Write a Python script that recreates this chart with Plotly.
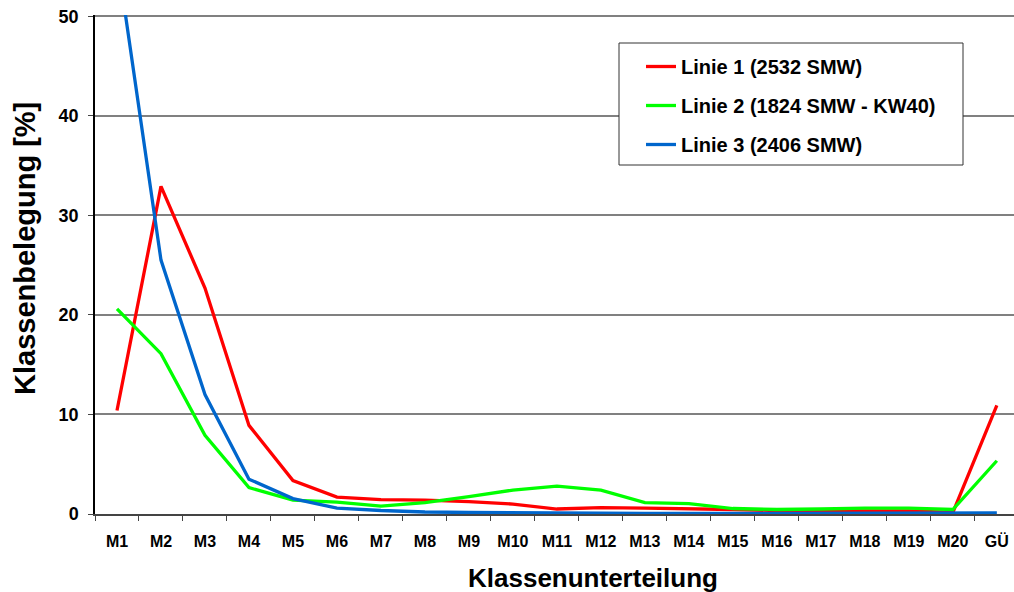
import plotly.graph_objects as go

categories = ["M1", "M2", "M3", "M4", "M5", "M6", "M7", "M8", "M9", "M10",
              "M11", "M12", "M13", "M14", "M15", "M16", "M17", "M18", "M19", "M20", "GÜ"]

linie1 = [10.4, 32.9, 22.7, 8.9, 3.35, 1.7, 1.45, 1.4, 1.25, 1.0,
          0.5, 0.65, 0.6, 0.55, 0.45, 0.35, 0.3, 0.3, 0.3, 0.15, 10.9]
linie2 = [20.6, 16.1, 7.9, 2.65, 1.4, 1.2, 0.8, 1.15, 1.75, 2.4,
          2.8, 2.4, 1.15, 1.05, 0.55, 0.45, 0.5, 0.6, 0.6, 0.45, 5.35]
linie3 = [56.0, 25.5, 12.0, 3.5, 1.55, 0.6, 0.35, 0.2, 0.15, 0.1,
          0.05, 0.08, 0.05, 0.05, 0.05, 0.05, 0.08, 0.08, 0.05, 0.1, 0.1]

names = ["Linie 1 (2532 SMW)", "Linie 2 (1824 SMW - KW40)", "Linie 3 (2406 SMW)"]
colors = ["#FF0000", "#00FF00", "#0066CC"]

FONT = "Liberation Sans, Arial, sans-serif"

# body margin is removed by the post script, so figure pixels == window pixels
OFF = 0
W, H = 1014 - OFF, 592 - OFF
# plot area in window pixels: left 95, top 15, bottom 514, right 1014
L, T = 95 - OFF, 15 - OFF
B = H - (514 - OFF)
R = 0
PW, PH = W - L - R, H - T - B


def px_x(xw):
    return (xw - OFF - L) / PW


def px_y(yw):
    return 1 - (yw - OFF - T) / PH


fig = go.Figure()
for i, (name, vals, col) in enumerate(zip(names, [linie1, linie2, linie3], colors)):
    fig.add_trace(go.Scatter(x=categories, y=vals, mode="lines", name="<b>" + name + "</b>",
                             legendgroup=f"g{i}",
                             line=dict(color=col, width=3.3)))

fig.update_layout(
    width=W, height=H,
    margin=dict(l=L, r=R, t=T, b=B),
    paper_bgcolor="white", plot_bgcolor="white",
    font=dict(family=FONT, color="black"),
    showlegend=True,
    legend=dict(x=px_x(641), y=px_y(47), xanchor="left", yanchor="top",
                bgcolor="rgba(0,0,0,0)", borderwidth=0,
                font=dict(family=FONT, size=20, color="black"),
                itemwidth=30, tracegroupgap=10),
    shapes=[dict(type="rect", xref="paper", yref="paper",
                 x0=px_x(619), x1=px_x(963), y0=px_y(165), y1=px_y(43),
                 fillcolor="white", line=dict(color="#333333", width=1), layer="above")],
    annotations=[
        dict(text="<b>Klassenbelegung [%]</b>", xref="paper", yref="paper",
             x=px_x(25), y=px_y(249), xanchor="center", yanchor="middle",
             textangle=-90, showarrow=False, font=dict(family=FONT, size=29, color="black")),
        dict(text="<b>Klassenunterteilung</b>", xref="paper", yref="paper",
             x=px_x(593), y=px_y(578), xanchor="center", yanchor="middle",
             showarrow=False, font=dict(family=FONT, size=26, color="black")),
    ],
)

fig.update_xaxes(
    type="category", range=[-0.5, 20.39], tickson="boundaries",
    ticks="outside", ticklen=5, tickcolor="#444444",
    showline=True, linecolor="#444444", linewidth=1.5,
    showgrid=False, zeroline=False, automargin=False,
    ticklabelstandoff=12, ticklabeloverflow="allow",
    tickfont=dict(family=FONT, size=16, color="black", weight="bold"),
)
fig.update_yaxes(
    range=[0, 50.12], tickvals=[0, 10, 20, 30, 40, 50],
    ticks="outside", ticklen=5, tickcolor="#444444",
    showline=True, linecolor="black", linewidth=1.5,
    showgrid=True, gridcolor="#808080", gridwidth=1.5, zeroline=False, automargin=False,
    ticklabelstandoff=6, ticklabeloverflow="allow",
    tickfont=dict(family=FONT, size=18, color="black", weight="bold"),
)

fig.write_html("out.html", config={"displayModeBar": False},
               post_script="document.body.style.margin='0px';")
